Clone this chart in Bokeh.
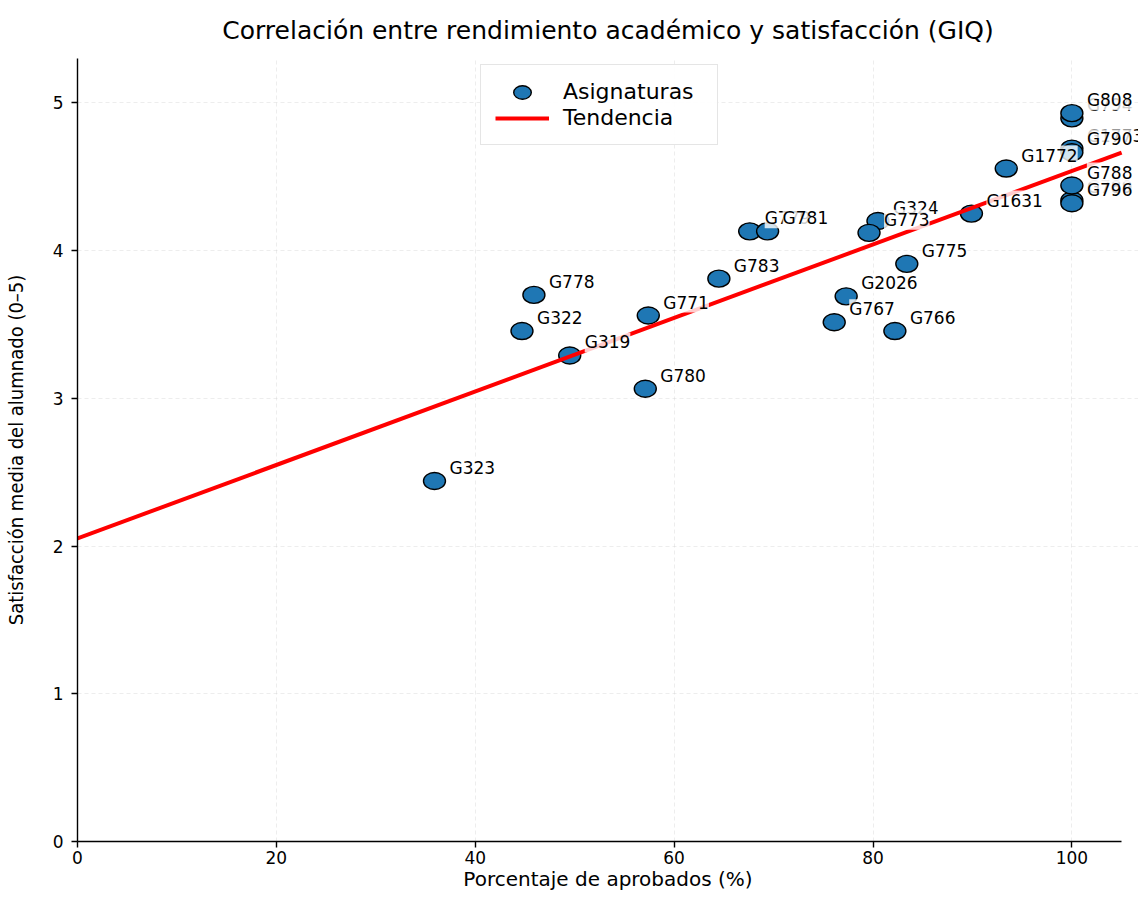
import numpy as np
from bokeh.plotting import figure
from bokeh.models import ColumnDataSource, LabelSet, Range1d, FixedTicker, Legend, LegendItem
from bokeh.core.properties import value
from bokeh.embed import file_html
from bokeh.resources import INLINE

# ---- data ----
subjects = ["G323", "G322", "G778", "G319", "G780", "G771", "G783", "G779", "G781",
            "G324", "G773", "G2026", "G767", "G775", "G766", "G1631",
            "G794", "G808", "G1773", "G790", "G1772", "G789", "G788", "G796"]
pass_pct = [35.9, 44.7, 45.9, 49.5, 57.1, 57.4, 64.5, 67.6, 69.4,
            80.5, 79.6, 77.3, 76.1, 83.4, 82.2, 89.9,
            100, 100, 100, 100, 93.4, 100, 100, 100]
satisfaction = [2.44, 3.455, 3.70, 3.29, 3.065, 3.56, 3.81, 4.13, 4.13,
                4.20, 4.12, 3.69, 3.515, 3.91, 3.455, 4.25,
                4.895, 4.93, 4.69, 4.665, 4.555, 4.34, 4.44, 4.32]
trend_intercept = 2.051
trend_slope = 0.02488
x_ticks = [0, 20, 40, 60, 80, 100]
y_ticks = [0, 1, 2, 3, 4, 5]
x_axis_max = 105

FONT = "DejaVu Sans"

p = figure(frame_width=1061, frame_height=783, output_backend="svg", toolbar_location=None,
           x_range=Range1d(0, 106.7), y_range=Range1d(0, 5.3),
           min_border_left=0, min_border_right=0, min_border_top=0, min_border_bottom=0)

p.title.text = "Correlación entre rendimiento académico y satisfacción (GIQ)"
p.title.align = "center"
p.title.text_font = FONT
p.title.text_font_size = "25px"
p.title.text_font_style = "normal"
p.title.text_color = "black"
p.title.standoff = 27

p.outline_line_color = None
p.background_fill_color = "white"

src = ColumnDataSource(dict(x=pass_pct, y=satisfaction, name=subjects))

trend_x = np.array([0, x_axis_max], dtype=float)
trend_y = trend_intercept + trend_slope * trend_x

sc = p.ellipse("x", "y", source=src, width=22, height=17, width_units="screen",
               height_units="screen", fill_color="#1f77b4", line_color="black",
               line_width=1.4)
ln = p.line(trend_x, trend_y, line_color="red", line_width=4)

labels = LabelSet(x="x", y="y", text="name", source=src, x_offset=15, y_offset=13,
                  text_baseline="middle", text_align="left", text_font=value(FONT),
                  text_font_size="17px", text_color="black",
                  background_fill_color="white", background_fill_alpha=0.8)
p.add_layout(labels)

legend = Legend(items=[LegendItem(label="Asignaturas", renderers=[sc]),
                       LegendItem(label="Tendencia", renderers=[ln])],
                location=(403, 696), label_text_font=FONT, label_text_font_size="22px",
                label_text_color="black",
                border_line_color="#cccccc", border_line_width=1,
                background_fill_alpha=0.9, glyph_width=54, glyph_height=22,
                label_standoff=14, label_width=140, padding=14, spacing=1, margin=0)
p.add_layout(legend)

for ax in (p.xaxis, p.yaxis):
    ax.axis_line_color = "black"
    ax.axis_line_width = 1.4
    ax.major_tick_line_color = "black"
    ax.major_tick_line_width = 1.4
    ax.major_tick_out = 6
    ax.major_tick_in = 0
    ax.minor_tick_line_color = None
    ax.major_label_text_font = FONT
    ax.major_label_text_font_size = "17px"
    ax.major_label_text_color = "black"
    ax.axis_label_text_font_style = "normal"
    ax.axis_label_text_color = "black"

p.xaxis.bounds = (0, x_axis_max)
p.xaxis.ticker = FixedTicker(ticks=x_ticks)
p.yaxis.ticker = FixedTicker(ticks=y_ticks)
p.xaxis.axis_label = "Porcentaje de aprobados (%)"
p.xaxis.axis_label_text_font = FONT
p.xaxis.axis_label_text_font_size = "20px"
p.xaxis.axis_label_standoff = 0
p.xaxis.major_label_standoff = 3
p.yaxis.axis_label = "Satisfacción media del alumnado (0–5)"
p.yaxis.axis_label_text_font = "DejaVu Sans Condensed"
p.yaxis.axis_label_text_font_size = "20px"
p.yaxis.axis_label_standoff = 22
p.yaxis.major_label_standoff = 8

p.xgrid.grid_line_color = "#cccccc"
p.ygrid.grid_line_color = "#cccccc"
p.xgrid.grid_line_alpha = 0.35
p.ygrid.grid_line_alpha = 0.35
p.xgrid.grid_line_dash = "4 3"
p.ygrid.grid_line_dash = "4 3"

open("out.html", "w").write(file_html(p, INLINE))
